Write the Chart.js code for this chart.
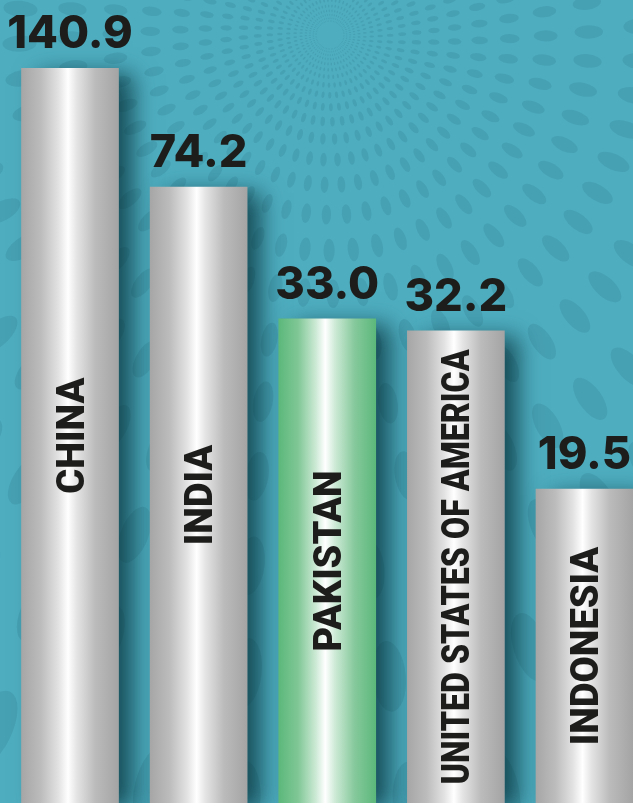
<!DOCTYPE html>
<html><head><meta charset="utf-8">
<style>html,body{margin:0;padding:0;overflow:hidden;background:#4eaec0}canvas{display:block}</style>
<script src="https://cdn.jsdelivr.net/npm/chart.js@4.4.1/dist/chart.umd.min.js"></script>
</head><body>
<div style="width:633px;height:803px;position:relative"><canvas id="c" width="633" height="803"></canvas></div>
<script>
// ---- data ----
const categories = ['CHINA', 'INDIA', 'PAKISTAN', 'UNITED STATES OF AMERICA', 'INDONESIA'];
const values = [140.9, 74.2, 33.0, 32.2, 19.5];
// bar heights as drawn in the graphic (percent of the frame height; the graphic is not to scale)
const barHeights = [91.5, 76.7, 60.3, 58.8, 39.1];
const highlighted = ['PAKISTAN'];

// ---- styles ----
const BAR_W = 97;
const greyStops = [[0,'#a6a6a6'],[0.2,'#bcbcbc'],[0.38,'#e2e2e2'],[0.48,'#ffffff'],[0.57,'#e4e4e4'],[0.76,'#bbbbbb'],[1,'#a4a4a4']];
const greenStops = [[0,'#5cb87b'],[0.2,'#80c796'],[0.38,'#cbe9d4'],[0.48,'#ffffff'],[0.58,'#cdead6'],[0.78,'#86c99c'],[1,'#5cb87b']];

function barFill(c) {
  const chart = c.chart, xs = chart.scales.x;
  if (!xs || c.dataIndex === undefined) return '#bbbbbb';
  const cx = xs.getPixelForValue(c.dataIndex);
  if (!isFinite(cx)) return '#bbbbbb';
  const g = chart.ctx.createLinearGradient(cx - BAR_W / 2, 0, cx + BAR_W / 2, 0);
  const stops = highlighted.includes(categories[c.dataIndex]) ? greenStops : greyStops;
  stops.forEach(s => g.addColorStop(s[0], s[1]));
  return g;
}

function drawPattern(ctx, w, h) {
  ctx.fillStyle = '#4eaec0';
  ctx.fillRect(0, 0, w, h);
  const cx = 330, cy = 35, n = 56;
  ctx.fillStyle = 'rgba(0,45,65,0.10)';
  let ring = 0;
  for (let r = 14; r < 1400; r *= 1.2, ring++) {
    for (let k = 0; k < n; k++) {
      const t = (k + (ring % 2) * 0.5) / n * 2 * Math.PI + Math.log(r) * 0.22;
      const px = cx + r * Math.cos(t), py = cy + r * Math.sin(t);
      if (px < -80 || px > w + 80 || py < -80 || py > h + 80) continue;
      ctx.beginPath();
      ctx.ellipse(px, py, r * 0.055, r * 0.026, t, 0, 2 * Math.PI);
      ctx.fill();
    }
  }
}

const bgPlugin = {
  id: 'bg',
  beforeDraw(chart) { drawPattern(chart.ctx, chart.width, chart.height); }
};

const shadowPlugin = {
  id: 'shadow',
  beforeDatasetsDraw(chart) {
    const ctx = chart.ctx, meta = chart.getDatasetMeta(0);
    ctx.save();
    meta.data.forEach(bar => {
      ctx.shadowColor = 'rgba(5,45,55,0.75)';
      ctx.shadowBlur = 22;
      ctx.shadowOffsetX = 14;
      ctx.shadowOffsetY = 6;
      ctx.fillStyle = '#3d8d9a';
      ctx.fillRect(bar.x - bar.width / 2 + 2, bar.y, bar.width - 2, bar.base - bar.y);
    });
    ctx.restore();
  }
};

const labelPlugin = {
  id: 'labels',
  afterDatasetsDraw(chart) {
    const ctx = chart.ctx, meta = chart.getDatasetMeta(0);
    const bottom = chart.chartArea.bottom;
    meta.data.forEach((bar, i) => {
      ctx.save();
      ctx.fillStyle = '#1d1d1b';
      ctx.textAlign = 'center';
      ctx.textBaseline = 'alphabetic';
      ctx.font = '800 45px Inter';
      ctx.fillText(values[i].toFixed(1), bar.x, bar.y - 20);
      const cy = (bar.y + Math.min(bar.base, bottom)) / 2;
      ctx.translate(bar.x, cy);
      ctx.rotate(-Math.PI / 2);
      ctx.font = '900 38px Roboto';
      ctx.fillText(categories[i], 0, 38 * 0.711 / 2, 435);
      ctx.restore();
    });
  }
};

new Chart(document.getElementById('c'), {
  type: 'bar',
  data: {
    labels: categories,
    datasets: [{
      data: barHeights,
      backgroundColor: barFill,
      borderWidth: 0,
      barThickness: BAR_W,
      clip: false
    }]
  },
  options: {
    responsive: false,
    animation: false,
    devicePixelRatio: 1,
    layout: { padding: { left: 70, right: 48.5, top: 0, bottom: 0 } },
    plugins: { legend: { display: false }, tooltip: { enabled: false } },
    scales: {
      x: { display: false, offset: false },
      y: { display: false, min: 0, max: 100 }
    }
  },
  plugins: [bgPlugin, shadowPlugin, labelPlugin]
});
</script>
</body></html>
